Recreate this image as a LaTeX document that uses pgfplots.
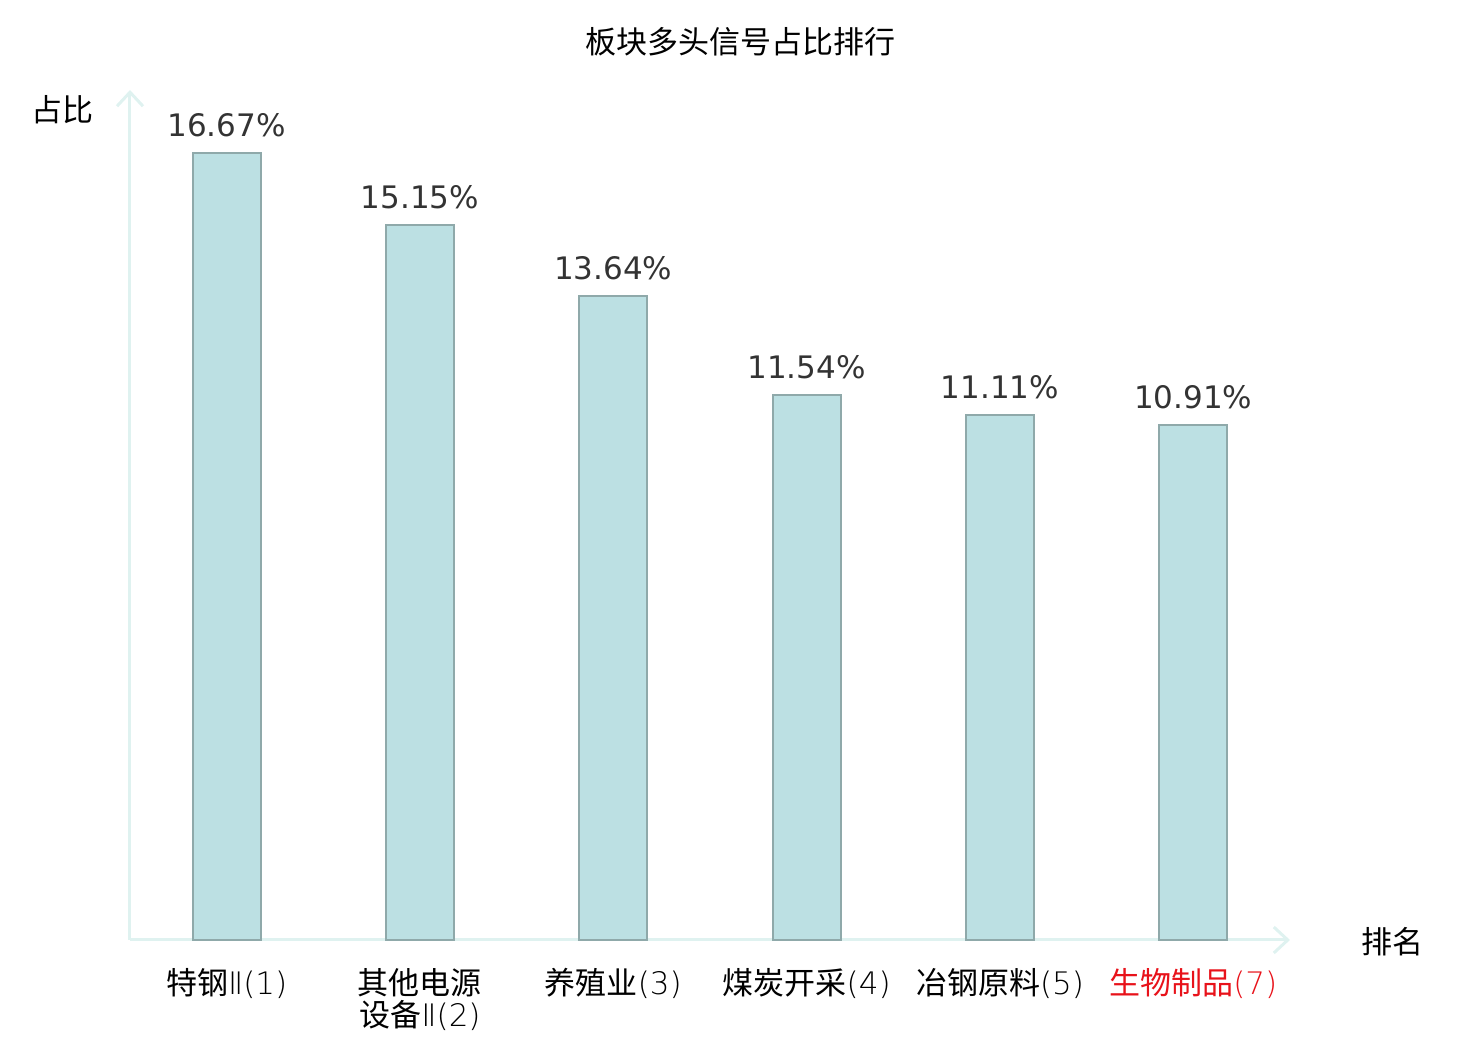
\documentclass[border=0pt]{standalone}
\usepackage{fontspec}
\setmainfont{Noto Sans CJK SC}
\newfontfamily\dejavu{DejaVu Sans}
\newfontfamily\dejavuxl{DejaVu Sans ExtraLight}
\usepackage{pgfplots}
\pgfplotsset{compat=1.18}
\usetikzlibrary{arrows.meta}
\definecolor{barfill}{HTML}{BCE0E3}
\definecolor{baredge}{HTML}{8FA9AA}
\definecolor{axcol}{HTML}{DFF2F0}
\definecolor{lblred}{HTML}{E8121A}
\definecolor{numcol}{HTML}{333333}
\newcommand{\RII}{{\dejavuxl Ⅱ}}
\newcommand{\N}[1]{{\dejavuxl #1}}
\begin{document}
\begin{tikzpicture}
\useasboundingbox (-65pt,-50pt) rectangle (675pt,470pt);
\begin{axis}[
  at={(0,0)}, anchor=south west,
  scale only axis,
  width=580pt, height=425pt,
  xmin=-0.5, xmax=5.5, ymin=0, ymax=18,
  enlargelimits=false,
  axis x line=bottom, axis y line=left,
  axis line style={draw=axcol, line width=1.5pt, -{Straight Barb[length=7pt,width=13pt,line width=1.5pt]}},
  xtick={0,1,2,3,4,5},
  xticklabels={{特钢\N{Ⅱ(1)}},{其他电源\\设备\N{Ⅱ(2)}},{养殖业\N{(3)}},{煤炭开采\N{(4)}},{冶钢原料\N{(5)}},{\textcolor{lblred}{生物制品\N{(7)}}}},
  xticklabel style={align=center, anchor=north, inner sep=0pt, yshift=-14pt, font=\fontsize{15.5}{16}\selectfont},
  major tick length=0pt,
  ytick=\empty,
  clip=false,
  ybar, bar width=34pt,
  /pgf/number format/assume math mode=true,
  nodes near coords={\pgfmathprintnumber[fixed,precision=2,fixed zerofill,assume math mode=true]{\pgfplotspointmeta}\%},
  nodes near coords style={font=\dejavu\fontsize{15.5}{16}\selectfont, text=numcol, anchor=south, inner sep=0pt, yshift=7.5pt},
]
\addplot[fill=barfill, draw=baredge, line width=1pt] coordinates {(0,16.67) (1,15.15) (2,13.64) (3,11.54) (4,11.11) (5,10.91)};
\end{axis}
\node[font=\fontsize{15.5}{16}\selectfont] at (305pt,449pt) {板块多头信号占比排行};
\node[font=\fontsize{15.5}{16}\selectfont] at (-33.5pt,415pt) {占比};
\node[font=\fontsize{15.5}{16}\selectfont] at (631pt,-1pt) {排名};
\end{tikzpicture}
\end{document}
